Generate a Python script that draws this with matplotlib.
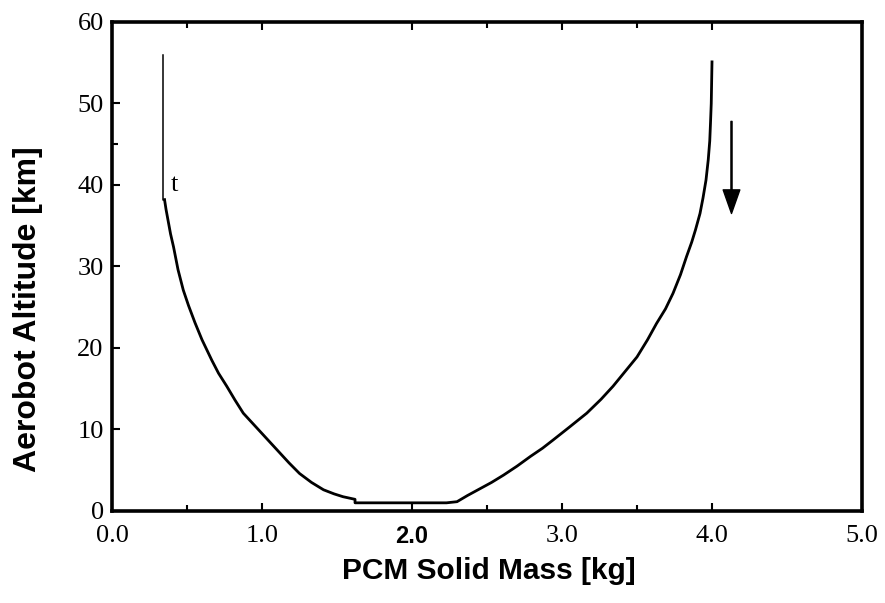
"""
Aerobot altitude against PCM solid mass
"""

import matplotlib
matplotlib.use("Agg")
import matplotlib.pyplot as plt


# traced curve (mass in kg, altitude in km)
mass = [0.35, 0.36, 0.38, 0.39, 0.41, 0.44, 0.475, 0.51, 0.553, 0.60,
        0.665, 0.71, 0.765, 0.82, 0.875, 0.94, 1.0, 1.06, 1.12, 1.18,
        1.25, 1.33, 1.41, 1.48, 1.54, 1.62, 1.62, 2.23, 2.30, 2.37,
        2.45, 2.53, 2.61, 2.70, 2.79, 2.87, 2.94, 3.05, 3.165, 3.26,
        3.34, 3.42, 3.50, 3.57, 3.63, 3.69, 3.74, 3.79, 3.83, 3.865,
        3.89, 3.92, 3.94, 3.96, 3.975, 3.985, 3.99, 3.995, 4.0]
altitude = [38.2, 37.0, 35.0, 34.0, 32.4, 29.6, 27.1, 25.2, 23.1, 21.0,
            18.5, 16.9, 15.3, 13.6, 12.0, 10.7, 9.5, 8.3, 7.1, 5.9,
            4.6, 3.5, 2.6, 2.1, 1.75, 1.43, 1.0, 1.0, 1.14, 1.9,
            2.7, 3.5, 4.4, 5.5, 6.7, 7.7, 8.7, 10.3, 12.0, 13.7,
            15.3, 17.1, 18.9, 21.0, 23.0, 24.8, 26.7, 29.0, 31.2, 33.0,
            34.5, 36.5, 38.4, 40.6, 43.1, 45.4, 47.6, 50.0, 55.1]

# vertical start segment
start_mass = [0.34, 0.34, 0.35]
start_alt = [56.0, 38.2, 38.2]

# arrow (tail, head)
arrow_x = [4.13, 4.13]
arrow_y = [47.8, 36.5]

x_ticks = [0.0, 1.0, 2.0, 3.0, 4.0, 5.0]
x_labels = ["0.0", "1.0", "2.0", "3.0", "4.0", "5.0"]
y_ticks = [0, 10, 20, 30, 40, 50, 60]


fig = plt.figure(figsize=(8.85, 6.03), dpi=100)
ax = fig.add_axes([0.1266, 0.1526, 0.8474, 0.811])

ax.plot(start_mass, start_alt, color="black", linewidth=1.1)
ax.plot(mass, altitude, color="black", linewidth=2.0, solid_joinstyle="round")

ax.annotate("", xy=(arrow_x[1], arrow_y[1]), xytext=(arrow_x[0], arrow_y[0]),
            arrowprops=dict(facecolor="black", edgecolor="black", width=0.8,
                            headwidth=12, headlength=17))

ax.text(0.39, 40, "t", fontsize=19, family="Liberation Serif",
        ha="left", va="center")

ax.set_xlim(0, 5)
ax.set_ylim(0, 60)

for s in ax.spines.values():
    s.set_linewidth(2.6)

ax.set_xticks(x_ticks)
ax.set_xticklabels(x_labels)
ax.set_yticks(y_ticks)
ax.set_xticks([0.5, 2.5, 3.5], minor=True)
ax.set_yticks([45], minor=True)

ax.tick_params(axis="both", which="major", direction="in", length=6, width=1.5,
               top=True, labelsize=19, pad=6)
ax.tick_params(axis="x", which="major", pad=10)
ax.tick_params(axis="both", which="minor", direction="in", length=4, width=1.5,
               top=True)

for lab in ax.get_xticklabels() + ax.get_yticklabels():
    lab.set_family("Liberation Serif")
for lab in ax.get_xticklabels():
    if lab.get_text() == "2.0":
        lab.set_family("Liberation Sans")
        lab.set_fontweight("bold")
        lab.set_fontsize(17)

ax.set_xlabel("PCM Solid Mass [kg]", fontsize=21.5, fontweight="bold",
              family="Liberation Sans")
ax.xaxis.set_label_coords(0.503, -0.122)
ax.set_ylabel("Aerobot Altitude [km]", fontsize=23, fontweight="bold",
              family="Liberation Sans")
ax.yaxis.set_label_coords(-0.112, 0.413)
ax.yaxis.label.set_va("center")
ax.xaxis.label.set_va("center")

fig.savefig("out.png", dpi=100)
